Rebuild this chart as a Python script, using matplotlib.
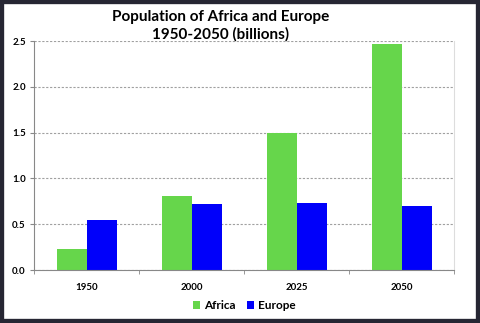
import matplotlib.pyplot as plt
import numpy as np
from matplotlib.patches import Rectangle

years = ['1950', '2000', '2025', '2050']
africa = [0.23, 0.81, 1.50, 2.47]
europe = [0.55, 0.72, 0.73, 0.70]

plt.rcParams['font.family'] = ['Lato', 'DejaVu Sans']

fig = plt.figure(figsize=(4.8, 3.23), dpi=100)
ax = fig.add_axes([0.071, 0.164, 0.875, 0.709])

x = np.arange(len(years))
width = 0.286
ax.bar(x - width / 2, africa, width, color='#66d64b', label='Africa')
ax.bar(x + width / 2, europe, width, color='#0000fa', label='Europe')

ax.set_xlim(-0.5, len(years) - 0.5)
ax.set_ylim(0, 2.5)
ax.set_yticks(np.arange(0, 2.51, 0.5))
ax.set_yticklabels([f'{v:.1f}' for v in np.arange(0, 2.51, 0.5)])
ax.set_xticks(x)
ax.set_xticklabels(years)
ax.set_xticks(np.arange(-0.5, len(years), 1.0), minor=True)
ax.tick_params(axis='x', which='major', length=0, pad=9)
ax.tick_params(axis='x', which='minor', length=3, color='#888888')
ax.tick_params(axis='y', length=3, color='#888888', pad=3)
for lab in ax.get_xticklabels() + ax.get_yticklabels():
    lab.set_fontsize(7)
    lab.set_fontweight('bold')

ax.grid(axis='y', linestyle=(0, (2, 1.5)), color='#a0a0a0', linewidth=0.8)
ax.set_axisbelow(True)
ax.spines['top'].set_visible(False)
ax.spines['left'].set_color('#888888')
ax.spines['bottom'].set_color('#888888')
ax.spines['right'].set_color('#dddddd')

fig.text(0.46, 0.968, 'Population of Africa and Europe\n1950-2050 (billions)',
         ha='center', va='top', fontsize=11, fontweight='bold', linespacing=1.2)

ax.legend(loc='upper center', bbox_to_anchor=(0.5, -0.085), ncol=2, frameon=False,
          prop={'size': 8.5, 'weight': 'bold'}, handlelength=0.6, handleheight=0.6,
          handletextpad=0.3, columnspacing=1.0)

fig.patches.append(Rectangle((0, 0), 1, 1, transform=fig.transFigure, fill=False,
                             edgecolor='#262633', linewidth=6))

fig.savefig('out.png', dpi=100)
